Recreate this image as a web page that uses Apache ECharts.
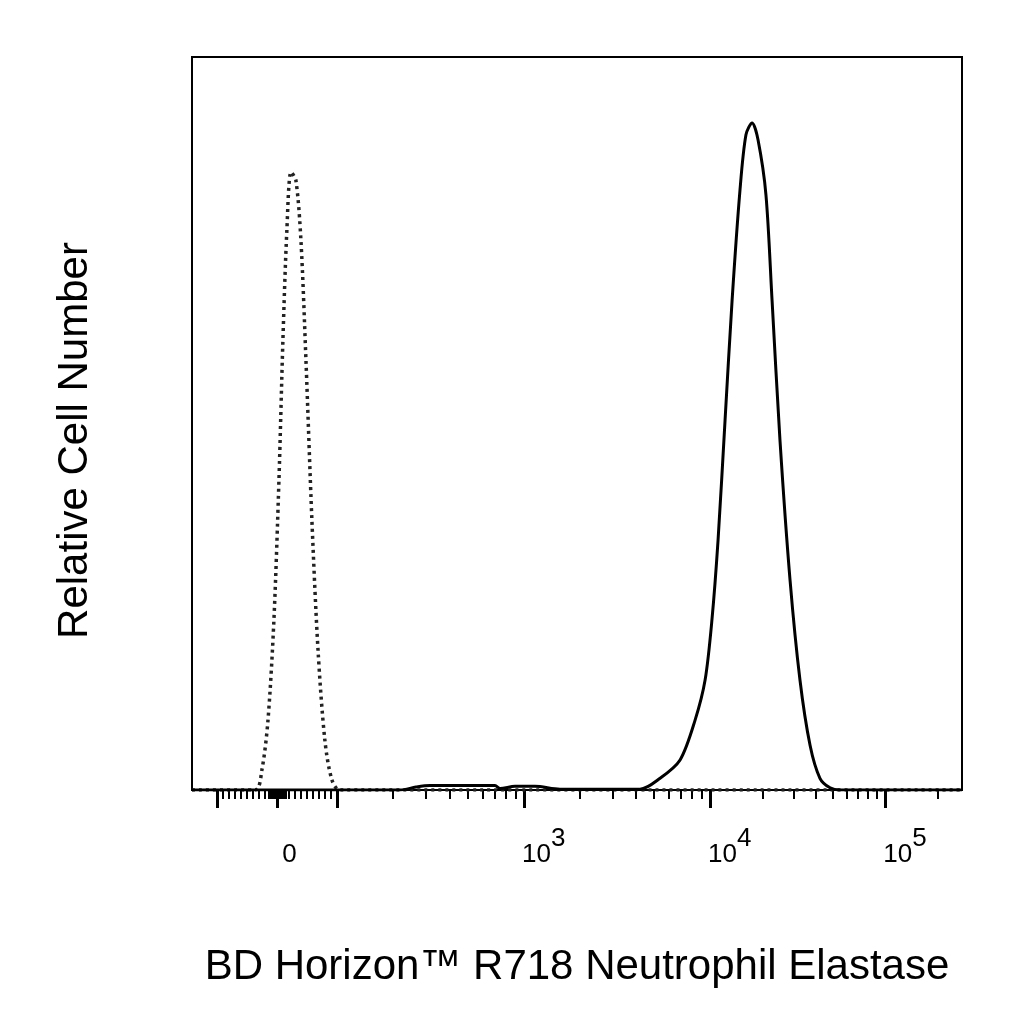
<!DOCTYPE html>
<html><head><meta charset="utf-8">
<script src="https://cdn.jsdelivr.net/npm/echarts@6/dist/echarts.min.js"></script>
<style>html,body{margin:0;background:#fff}#c{width:1024px;height:1024px}</style>
</head><body><div id="c"></div>
<script>
// x values in display decades (biexponential display units), y = relative count
const solidX = [1.156,2.311,2.40,2.478,2.60,2.839,2.867,2.95,3.061,3.2,3.644,3.756,3.867,3.95,4.006,4.044,4.078,4.117,4.156,4.2,4.233,4.267,4.3,4.344,4.378,4.422,4.478,4.533,4.589,4.644,4.7,4.756,5.433];
const solidY = [0,0,0.004,0.006,0.006,0.006,0.002,0.005,0.005,0.001,0.001,0.016,0.041,0.095,0.150,0.232,0.341,0.505,0.668,0.819,0.894,0.910,0.887,0.812,0.668,0.477,0.286,0.150,0.061,0.016,0.003,0,0];
const dotX = [1.156,1.506,1.544,1.578,1.611,1.639,1.661,1.683,1.706,1.733,1.761,1.789,1.822,1.856,1.894,1.933,1.978,5.433];
const dotY = [0,0,0.027,0.095,0.232,0.423,0.614,0.764,0.843,0.832,0.750,0.586,0.368,0.191,0.068,0.014,0,0];
const tickLabels = ['0','10^3','10^4','10^5'];
const labelValues = [0, 1000, 10000, 100000];
const majorValues = [-100, 0, 100, 1000, 10000, 100000];
// decade knots of the display scale (log10 value -> display unit)
const knotLog = [2,3,4,5];
const knotD = [1.961,3,4.033,5.006];
const zeroD = 1.628;

function T(v){
  if (Math.abs(v) <= 100) return zeroD + v/100*(knotD[0]-zeroD);
  const s = v<0?-1:1, l = Math.log10(Math.abs(v));
  let d;
  if (l>=5) d = knotD[3] + (l-5)*(knotD[3]-knotD[2]);
  else { let i = Math.min(2, Math.floor(l)-2); d = knotD[i] + (l-knotLog[i])*(knotD[i+1]-knotD[i]); }
  return s>0 ? d : 2*zeroD - d;
}
const minor = [];
for (let v=-90; v<=90; v+=10) minor.push(T(v));
for (let v=-14; v<=14; v+=2) minor.push(T(v));
for (let n=2;n<=5;n++) for (let k=2;k<=9;k++){ const v=k*Math.pow(10,n); if (T(v)<5.43) minor.push(T(v)); }
const major = majorValues.map(T);
const labelPos = labelValues.map((v,i)=>T(v)+(i===0?0.07:0.11));

const chart = echarts.init(document.getElementById('c'));
const font = 'Liberation Sans, Arial, sans-serif';
const baseX = {type:'value',min:1.156,max:5.433,splitLine:{show:false},axisLine:{show:false},axisLabel:{show:false},axisTick:{show:false}};
chart.setOption({
  animation:false,
  grid:{left:192,right:62,top:57,bottom:234,show:true,borderColor:'#000',borderWidth:2},
  xAxis:[
    Object.assign({},baseX,{axisLine:{show:true,lineStyle:{color:'#000',width:2}},
      axisTick:{show:true,customValues:minor,length:9,lineStyle:{color:'#000',width:2}},
      name:'BD Horizon™ R718 Neutrophil Elastase',nameLocation:'middle',nameGap:156,
      nameTextStyle:{fontFamily:font,fontSize:42,color:'#000'}}),
    Object.assign({},baseX,{position:'bottom',
      axisTick:{show:true,customValues:major,length:18,lineStyle:{color:'#000',width:3}}}),
    Object.assign({},baseX,{position:'bottom',
      axisLabel:{show:true,customValues:labelPos,margin:36,
        formatter:function(v){let i=0,b=1e9;labelPos.forEach((p,j)=>{if(Math.abs(p-v)<b){b=Math.abs(p-v);i=j;}});
          const t=tickLabels[i]; if(t.indexOf('^')<0) return '{b|'+t+'}'; const p=t.split('^'); return '{b|'+p[0]+'}{s|'+p[1]+'}';},
        rich:{b:{fontFamily:font,fontSize:26,color:'#000',padding:[16,0,0,0]},s:{fontFamily:font,fontSize:26,color:'#000',padding:[0,0,16,0]}}}})
  ],
  yAxis:{type:'value',min:0,max:1,splitLine:{show:false},axisLine:{show:false},axisTick:{show:false},axisLabel:{show:false},
    name:'Relative Cell Number',nameLocation:'middle',nameGap:96,
    nameTextStyle:{fontFamily:font,fontSize:42,color:'#000',padding:[0,34,0,0]}},
  series:[
    {type:'line',data:dotX.map((x,i)=>[x,dotY[i]]),showSymbol:false,smooth:0.3,lineStyle:{color:'#222',width:3.5,type:[3,4]}},
    {type:'line',data:solidX.map((x,i)=>[x,solidY[i]]),showSymbol:false,smooth:0.3,lineStyle:{color:'#000',width:3}}
  ]
});
</script></body></html>
